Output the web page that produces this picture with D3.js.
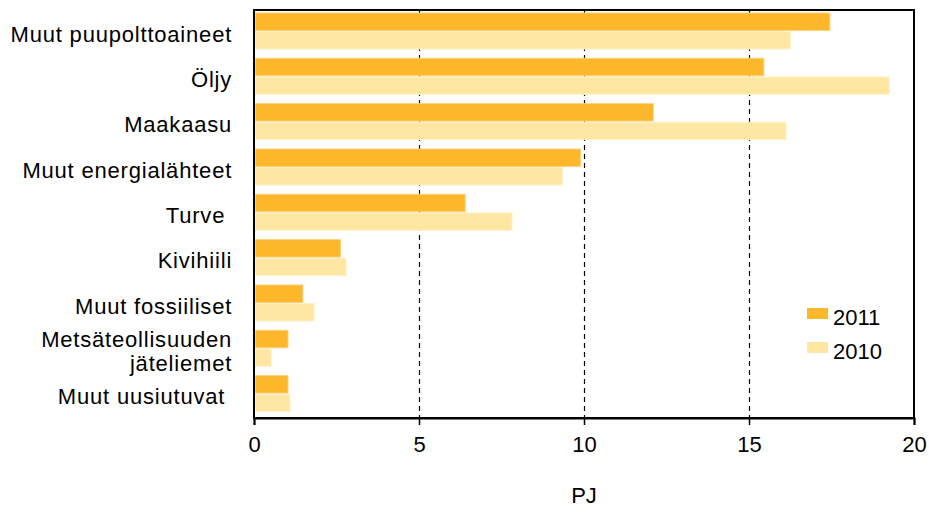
<!DOCTYPE html>
<html>
<head>
<meta charset="utf-8">
<script src="https://cdn.jsdelivr.net/npm/d3@7"></script>
<style>
  body { margin: 0; background: #fff; }
  text { font-family: "Liberation Sans", Arial, sans-serif; fill: #000; white-space: pre; }
</style>
</head>
<body>
<div id="chart"></div>
<script>
const categories = [
  ["Muut puupolttoaineet "],
  ["Öljy "],
  ["Maakaasu "],
  ["Muut energialähteet "],
  ["Turve  "],
  ["Kivihiili "],
  ["Muut fossiiliset "],
  ["Metsäteollisuuden ", "jäteliemet "],
  ["Muut uusiutuvat  "]
];
const series = ["2011", "2010"];
const values2011 = [17.45, 15.45, 12.1, 9.9, 6.4, 2.62, 1.48, 1.03, 1.03];
const values2010 = [16.25, 19.25, 16.12, 9.35, 7.82, 2.79, 1.82, 0.52, 1.09];
const xTicks = [0, 5, 10, 15, 20];
const colors = {"2011": "#fdb72a", "2010": "#fee7a2"};
const strokes = {"2011": "#fdd07a", "2010": "#fff1c8"};

const width = 929, height = 512;
const margin = {top: 10, right: 15, bottom: 94, left: 254};
const plotW = 914 - margin.left, plotH = 418 - margin.top;
const fontSize = 22;

const svg = d3.select("#chart").append("svg")
    .attr("width", width).attr("height", height);

const g = svg.append("g")
    .attr("transform", `translate(${margin.left},${margin.top})`);

const x = d3.scaleLinear().domain([0, 20]).range([0, plotW]);
const y = d3.scaleBand().domain(d3.range(categories.length)).range([0, plotH]);
const ySub = d3.scaleBand().domain(series).range([3, 39]).paddingInner(0.06);

// dashed gridlines
g.selectAll(".grid").data(xTicks.slice(1, -1)).enter().append("line")
    .attr("x1", d => Math.round(x(d)) + 0.5).attr("x2", d => Math.round(x(d)) + 0.5)
    .attr("y1", 0).attr("y2", plotH)
    .attr("stroke", "#000").attr("stroke-width", 1.2)
    .attr("stroke-dasharray", "5,4");

const data = categories.map((c, i) => ({i, "2011": values2011[i], "2010": values2010[i]}));

const groups = g.selectAll(".grp").data(data).enter().append("g")
    .attr("transform", d => `translate(0,${y(d.i)})`);

groups.selectAll("rect").data(d => series.map(s => ({s, v: d[s]}))).enter().append("rect")
    .attr("x", 1.5)
    .attr("y", d => ySub(d.s))
    .attr("width", d => x(d.v) - 1.5)
    .attr("height", ySub.bandwidth())
    .attr("fill", d => colors[d.s])
    .attr("stroke", d => strokes[d.s])
    .attr("stroke-width", 1);

// frame
g.append("rect")
    .attr("x", 0).attr("y", 0).attr("width", plotW).attr("height", plotH)
    .attr("fill", "none").attr("stroke", "#000").attr("stroke-width", 2);

// x axis
const xAxis = g.append("g")
    .attr("transform", `translate(0,${plotH})`)
    .call(d3.axisBottom(x).tickValues(xTicks).tickSize(7).tickPadding(11));
xAxis.select(".domain").attr("stroke-width", 2);
xAxis.selectAll(".tick line").attr("stroke-width", 1.5);
xAxis.selectAll("text").attr("font-size", fontSize).attr("font-family", "Liberation Sans, Arial, sans-serif");

g.append("text")
    .attr("x", x(10)).attr("y", plotH + 85)
    .attr("text-anchor", "middle").attr("font-size", fontSize)
    .text("PJ");

// category labels
const labels = g.selectAll(".lab").data(categories).enter().append("text")
    .attr("text-anchor", "end")
    .attr("font-size", fontSize)
    .attr("letter-spacing", 0.8)
    .attr("x", -15)
    .attr("y", (d, i) => y(i) + y.bandwidth() / 2 + 9 - (d.length - 1) * 12);
labels.selectAll("tspan").data(d => d).enter().append("tspan")
    .attr("x", -15)
    .attr("dy", (d, i) => i === 0 ? 0 : 24)
    .text(d => d);

// legend
const legend = svg.append("g").attr("transform", "translate(807,308)");
series.forEach((s, i) => {
  legend.append("rect")
      .attr("x", 0).attr("y", i * 34).attr("width", 21).attr("height", 11)
      .attr("fill", colors[s]);
  legend.append("text")
      .attr("x", 26).attr("y", i * 34 + 17)
      .attr("font-size", fontSize)
      .text(s);
});
</script>
</body>
</html>
